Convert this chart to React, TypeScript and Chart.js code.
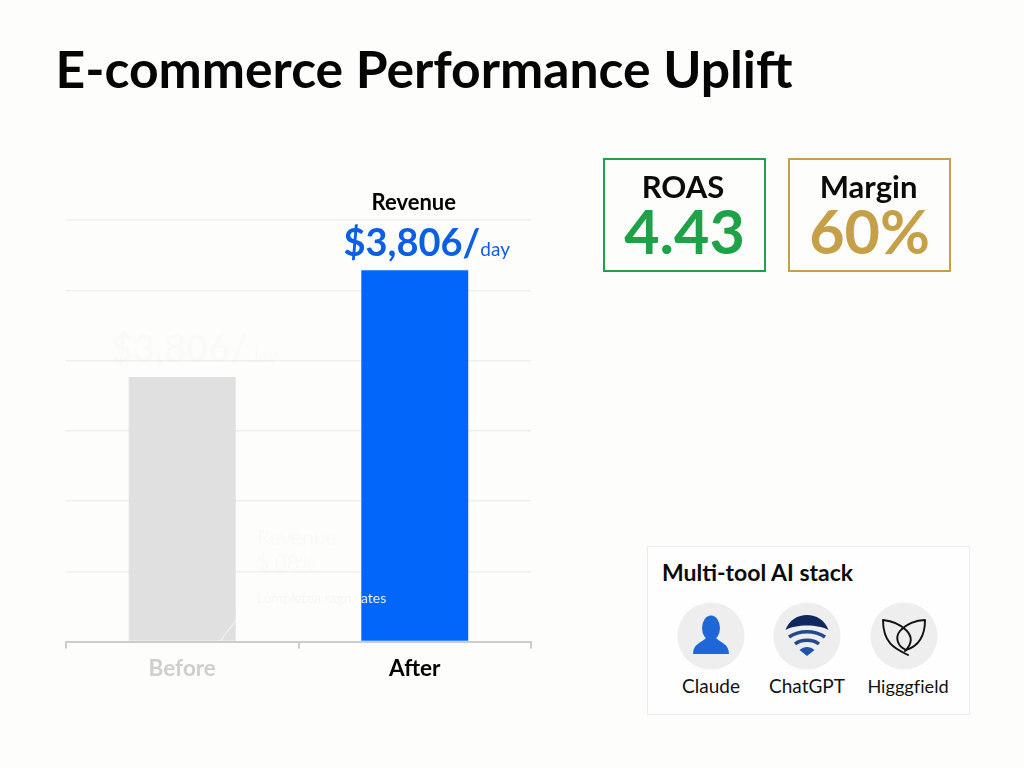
import { useEffect, useRef } from "react"
import { Chart, registerables } from "chart.js"
import type { Plugin } from "chart.js"

Chart.register(...registerables)

const categories = ["Before", "After"]
const revenueValues = [2710, 3806]
const axisMax = 4320
const axisStep = 720
const tickColors = ["#cfcfcf", "#000000"]
const barColors = ["#e0e0e1", "#0366fb"]
const tools = ["Claude", "ChatGPT", "Higggfield"]

const FONT = "Lato, sans-serif"

// labels above the bars, the one over "Before" is almost washed out in the original
const barLabels: Plugin<"bar"> = {
  id: "barLabels",
  afterDatasetsDraw(chart) {
    const { ctx } = chart
    const bars = chart.getDatasetMeta(0).data
    const amount = "$" + revenueValues[1].toLocaleString("en-US") + "/"

    ctx.save()
    ctx.textBaseline = "alphabetic"

    const drawAmount = (cx: number, y: number, color: string) => {
      ctx.font = `bold 38px ${FONT}`
      const w1 = ctx.measureText(amount).width
      ctx.font = `400 19px ${FONT}`
      const w2 = ctx.measureText("day").width
      const left = cx - (w1 + w2) / 2 + 12
      ctx.textAlign = "left"
      ctx.fillStyle = color
      ctx.font = `bold 38px ${FONT}`
      ctx.fillText(amount, left, y)
      ctx.font = `400 19px ${FONT}`
      ctx.fillText("day", left + w1, y)
    }

    drawAmount(bars[0].x, bars[0].y - 15, "rgba(0,0,0,0.012)")
    drawAmount(bars[1].x, bars[1].y - 14, "#0a5fe3")

    ctx.textAlign = "center"
    ctx.fillStyle = "#000000"
    ctx.font = `bold 22px ${FONT}`
    ctx.fillText("Revenue", bars[1].x - 1, bars[1].y - 60)

    // faint leftover annotation between the bars
    ctx.textAlign = "left"
    ctx.fillStyle = "rgba(0,0,0,0.015)"
    ctx.font = `400 21px ${FONT}`
    ctx.fillText("Revenue", 257, 545)
    ctx.fillText("$ 08%", 257, 570)
    ctx.font = `400 14px ${FONT}`
    ctx.fillStyle = "rgba(0,0,0,0.03)"
    ctx.fillText("Lompletea ragn", 257, 603)
    ctx.fillStyle = "rgba(255,255,255,0.9)"
    ctx.fillText("ates", 361, 603)
    ctx.strokeStyle = "rgba(255,255,255,0.8)"
    ctx.lineWidth = 1
    ctx.beginPath()
    ctx.moveTo(251, 601)
    ctx.lineTo(220, 641)
    ctx.stroke()
    ctx.restore()
  },
}

function ToolIcon({ name }: { name: string }) {
  return (
    <svg width="68" height="68" viewBox="-34 -34 68 68" style={{ display: "block" }}>
      <circle r="33.5" fill="#eeeeef" />
      {name === "Claude" && (
        <g fill="#1f66d6">
          <ellipse cx="0" cy="-8" rx="9" ry="12.5" />
          <path d="M-18 18 C-18 8 -10 7 -5 2 L5 2 C10 7 18 8 18 18 Z" />
        </g>
      )}
      {name === "ChatGPT" && (
        <g fill="none">
          <path d="M-21.5 -6 C-18 -16 -9 -21 0 -21 C9 -21 18 -16 21.5 -6 C12 -12 -12 -12 -21.5 -6 Z" fill="#10285e" />
          <path d="M-18 1 C-8 -6 8 -6 18 1" stroke="#244a8e" strokeWidth="3.6" />
          <path d="M-12 8 C-6 3 6 3 12 8" stroke="#244a8e" strokeWidth="3.4" />
          <path d="M-7.5 14 C-3 10 3 10 7.5 14 L0 20 Z" fill="#1d55ad" />
        </g>
      )}
      {name === "Higggfield" && (
        <g fill="none" stroke="#111111" strokeWidth="1.9" strokeLinejoin="round" strokeLinecap="round">
          <path d="M4 19 C-8 13 -21 8 -21 -16 C-12 -15 -4 -12 2 -6 C8 0 9 7 1 15" />
          <path d="M21 -16 C21 0 15 10 2 14 C-7 10 -9 1 -4 -5 C2 -12 12 -16 21 -16 Z" />
        </g>
      )}
    </svg>
  )
}

function StatCard({ left, label, value, color, labelShift }: { left: number; label: string; value: string; color: string; labelShift: number }) {
  return (
    <div
      style={{
        position: "absolute",
        left,
        top: 158,
        width: 163,
        height: 114,
        boxSizing: "border-box",
        border: `2px solid ${color}`,
        textAlign: "center",
      }}
    >
      <div style={{ position: "absolute", left: labelShift, right: 0, top: 8, fontSize: 31, lineHeight: "36px", fontWeight: 700, color: "#0b0b0b" }}>
        {label}
      </div>
      <div style={{ position: "absolute", left: 0, right: 0, top: 35, fontSize: 61, lineHeight: "72px", fontWeight: 700, color }}>
        {value}
      </div>
    </div>
  )
}

export default function App() {
  const canvasRef = useRef<HTMLCanvasElement>(null)

  useEffect(() => {
    document.body.style.margin = "0"
    if (!canvasRef.current) return

    const chart = new Chart(canvasRef.current, {
      type: "bar",
      data: {
        labels: categories,
        datasets: [
          {
            data: revenueValues,
            backgroundColor: barColors,
            barPercentage: 0.46,
            categoryPercentage: 1,
          },
        ],
      },
      options: {
        responsive: false,
        animation: false,
        layout: { padding: { left: 66, top: 220, right: 493, bottom: 0 } },
        plugins: { legend: { display: false }, tooltip: { enabled: false } },
        scales: {
          x: {
            afterFit: (scale) => {
              scale.height = 126.5
            },
            border: { color: "#cccccc", width: 2 },
            grid: { offset: true, drawOnChartArea: false, color: "#cccccc", lineWidth: 2, tickLength: 7 },
            ticks: {
              padding: 7,
              font: { family: FONT, size: 22.5, weight: "bold" },
              color: tickColors,
            },
          },
          y: {
            min: 0,
            max: axisMax,
            afterFit: (scale) => {
              scale.width = 0
            },
            border: { display: false },
            grid: { color: "#efefef", lineWidth: 1.5, drawTicks: false },
            ticks: { display: false, stepSize: axisStep },
          },
        },
      },
      plugins: [barLabels],
    })

    return () => chart.destroy()
  }, [])

  return (
    <div style={{ position: "relative", width: 1024, height: 768, overflow: "hidden", background: "#fdfdfc", fontFamily: FONT }}>
      <canvas ref={canvasRef} width={1024} height={768} style={{ position: "absolute", left: 0, top: 0 }} />
      <div style={{ position: "absolute", left: 55.5, top: 37, fontSize: 51.65, lineHeight: "62px", fontWeight: 700, color: "#050505", whiteSpace: "nowrap" }}>
        E-commerce Performance Uplift
      </div>
      <StatCard left={603} label="ROAS" value="4.43" color="#1fa148" labelShift={-3} />
      <StatCard left={788} label="Margin" value="60%" color="#c6a048" labelShift={-2} />
      <div
        style={{
          position: "absolute",
          left: 647,
          top: 546,
          width: 323,
          height: 169,
          boxSizing: "border-box",
          border: "1px solid #ececec",
          background: "#fefefe",
        }}
      >
        <div style={{ position: "absolute", left: 14, top: 11, fontSize: 23, lineHeight: "28px", fontWeight: 700, color: "#0b0b0b", whiteSpace: "nowrap" }}>
          Multi-tool AI stack
        </div>
        {tools.map((tool, i) => (
          <div key={tool} style={{ position: "absolute", left: [63, 159, 256][i] - 50, top: 55, width: 100, textAlign: "center" }}>
            <div style={{ width: 68, margin: "0 auto" }}>
              <ToolIcon name={tool} />
            </div>
            <div
              style={{
                marginTop: 4,
                marginLeft: i === 2 ? 8 : 0,
                fontSize: i === 2 ? 18.2 : 19,
                lineHeight: "24px",
                color: "#111111",
                fontVariantLigatures: "none",
                whiteSpace: "nowrap",
              }}
            >
              {tool}
            </div>
          </div>
        ))}
      </div>
    </div>
  )
}
